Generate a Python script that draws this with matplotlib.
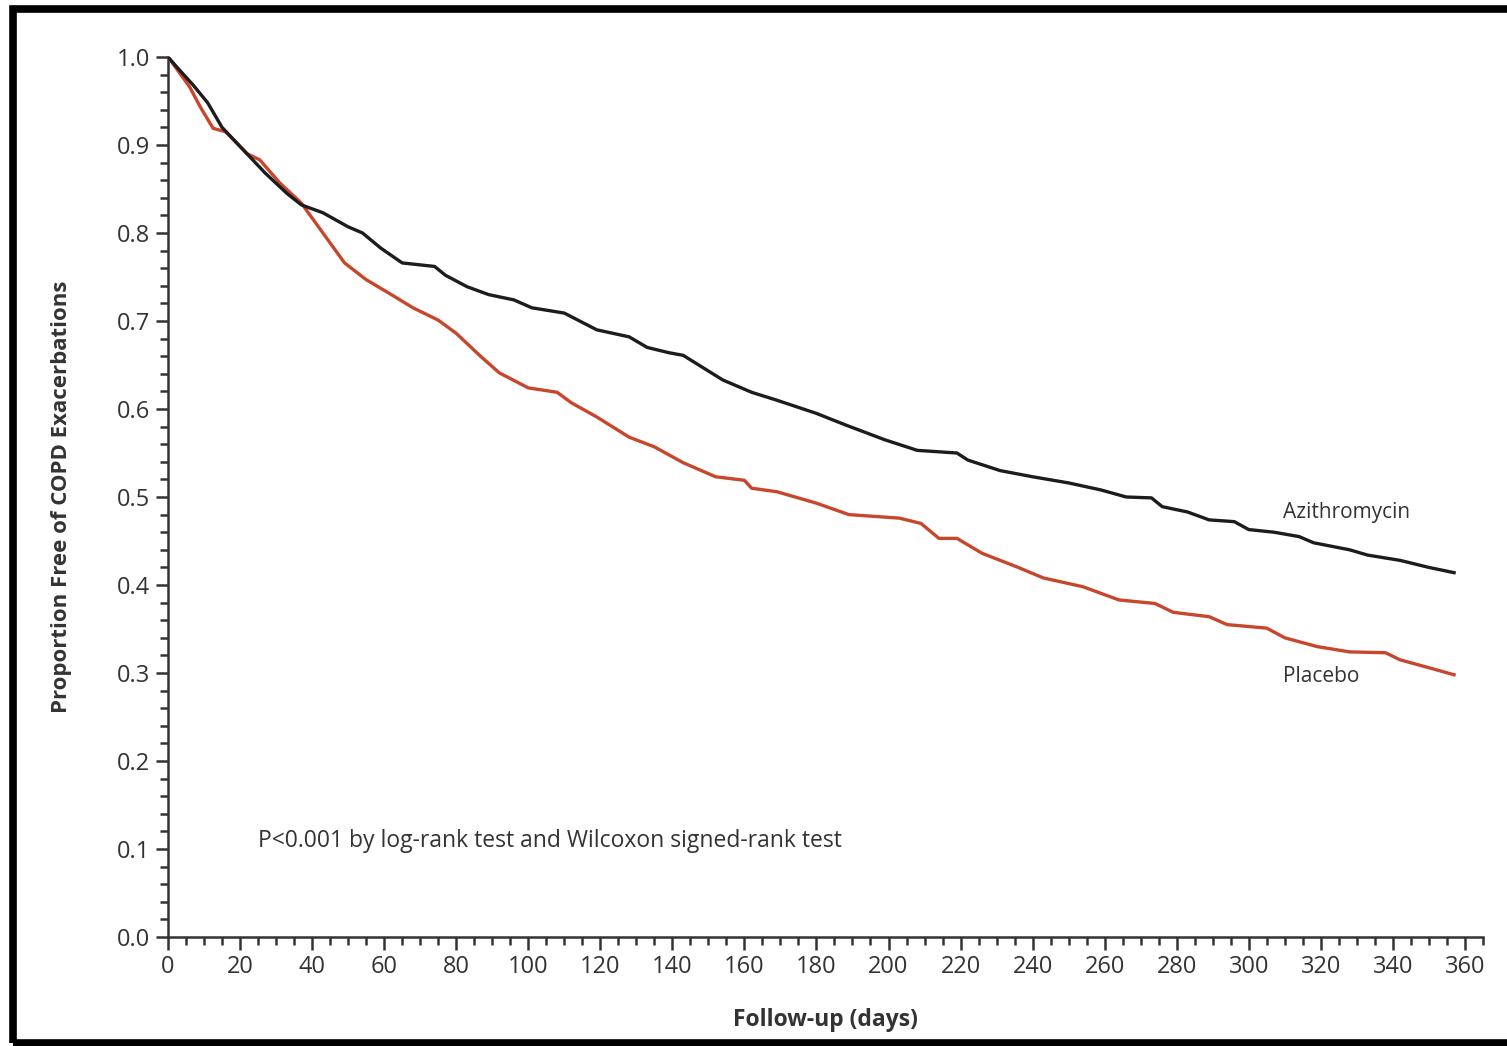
import numpy as np
import matplotlib.pyplot as plt
from matplotlib.patches import Rectangle
from matplotlib.ticker import MultipleLocator

plt.rcParams['font.family'] = ['Open Sans', 'DejaVu Sans']

# Kaplan-Meier curves (day, proportion free of exacerbation)
azi_days = [0, 3, 7, 11, 15, 21, 27, 33, 37, 43, 50, 54, 59, 65, 74, 77, 83, 89, 96,
            101, 110, 119, 128, 133, 139, 143, 154, 162, 169, 180, 188, 199, 208, 219,
            222, 231, 240, 250, 259, 266, 273, 276, 283, 289, 296, 300, 307, 314, 318,
            328, 333, 342, 350, 357]
azi_free = [1.0, 0.986, 0.968, 0.948, 0.92, 0.894, 0.868, 0.845, 0.832, 0.823, 0.807,
            0.80, 0.783, 0.766, 0.762, 0.752, 0.739, 0.73, 0.724, 0.715, 0.709, 0.69,
            0.682, 0.67, 0.664, 0.661, 0.633, 0.619, 0.61, 0.595, 0.582, 0.565, 0.553,
            0.55, 0.542, 0.53, 0.523, 0.516, 0.508, 0.50, 0.499, 0.489, 0.483, 0.474,
            0.472, 0.463, 0.46, 0.455, 0.448, 0.44, 0.434, 0.428, 0.42, 0.414]

pla_days = [0, 2.5, 6, 9, 12.5, 16, 22, 25.5, 31, 37, 43, 49, 55, 62, 68, 75, 80, 87,
            92, 100, 108, 112, 119, 128, 135, 143, 152, 160, 162, 169, 180, 189, 203,
            209, 214, 219, 226, 236, 243, 254, 264, 274, 279, 289, 294, 305, 310, 319,
            328, 338, 342, 350, 357]
pla_free = [1.0, 0.986, 0.966, 0.943, 0.919, 0.915, 0.89, 0.883, 0.857, 0.834, 0.80,
            0.766, 0.747, 0.73, 0.715, 0.701, 0.686, 0.659, 0.641, 0.624, 0.619, 0.607,
            0.591, 0.568, 0.557, 0.539, 0.523, 0.519, 0.51, 0.506, 0.493, 0.48, 0.476,
            0.47, 0.453, 0.453, 0.436, 0.42, 0.408, 0.398, 0.383, 0.379, 0.369, 0.364,
            0.355, 0.351, 0.34, 0.33, 0.324, 0.323, 0.315, 0.306, 0.298]

text_col = '#333333'

fig = plt.figure(figsize=(15.07, 10.46), dpi=100)
ax = fig.add_axes([0.1115, 0.1042, 0.8725, 0.8413])

ax.plot(pla_days, pla_free, color='#c8462c', lw=2.4, zorder=3)
ax.plot(azi_days, azi_free, color='#1c1c1c', lw=2.4, zorder=4)

ax.set_xlim(0, 365)
ax.set_ylim(0, 1.0)
ax.xaxis.set_minor_locator(MultipleLocator(5))
ax.yaxis.set_minor_locator(MultipleLocator(0.02))
ax.set_xticks(np.arange(0, 361, 20))
ax.set_yticks(np.arange(0, 1.01, 0.1))
ax.set_yticklabels([f'{v:.1f}' for v in np.arange(0, 1.01, 0.1)])

for s in ['top', 'right']:
    ax.spines[s].set_visible(False)
for s in ['left', 'bottom']:
    ax.spines[s].set_linewidth(1.8)
    ax.spines[s].set_color('#333333')

ax.tick_params(which='major', length=9, width=1.8, color='#333333',
               labelsize=17, labelcolor=text_col, pad=4)
ax.tick_params(which='minor', length=6, width=1.8, color='#333333')

ax.set_xlabel('Follow-up (days)', fontsize=16.5, fontweight='bold', color=text_col, labelpad=21)
ax.set_ylabel('Proportion Free of COPD Exacerbations', fontsize=16, fontweight='bold',
              color=text_col, labelpad=32)

ax.text(309.5, 0.482, 'Azithromycin', fontsize=15, color=text_col, va='center')
ax.text(309.5, 0.296, 'Placebo', fontsize=15, color=text_col, va='center')
ax.text(25, 0.109, 'P<0.001 by log-rank test and Wilcoxon signed-rank test',
        fontsize=16.5, color=text_col, va='center')

# heavy frame around the whole picture
fig.patches.append(Rectangle((13 / 1507, 3 / 1046), 1.05, 1 - 12 / 1046,
                             transform=fig.transFigure, fill=False,
                             edgecolor='black', lw=5.5))

fig.savefig('out.png', dpi=100)
